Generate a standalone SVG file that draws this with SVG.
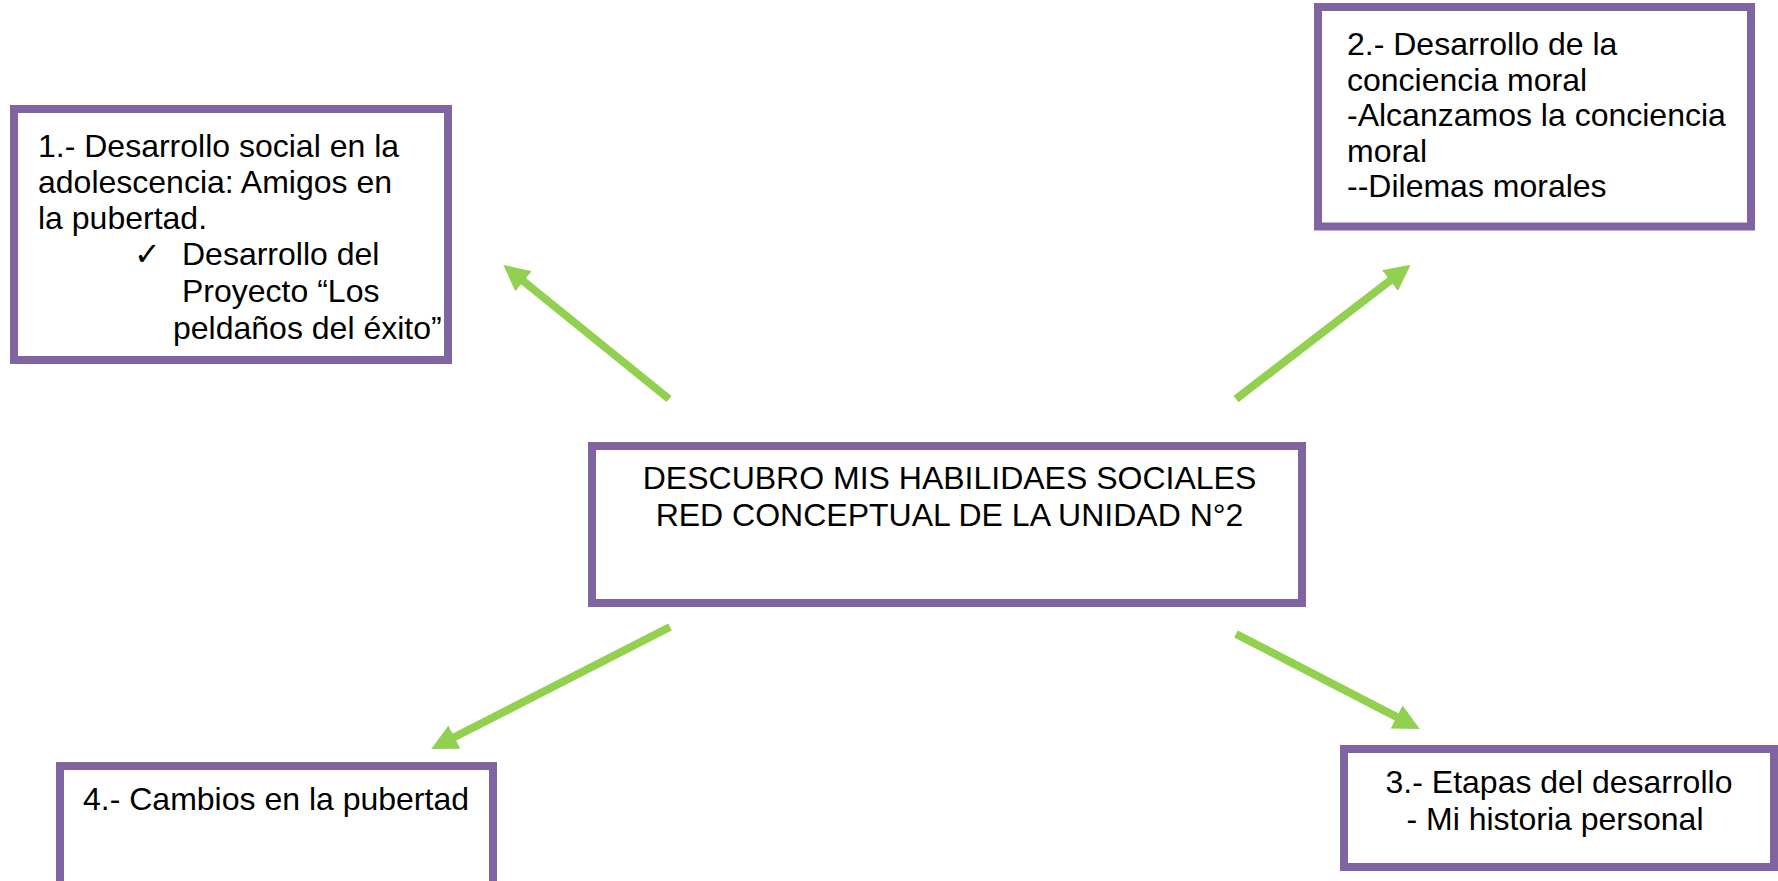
<svg xmlns="http://www.w3.org/2000/svg" width="1778" height="881" viewBox="0 0 1778 881">
<style>
.box{fill:#ffffff;stroke:#8064A2;stroke-width:8}
.t{font-family:"Liberation Sans",Arial,sans-serif;font-size:32px;fill:#000000}
.c{text-anchor:middle}
.arr{stroke:#92D050;stroke-width:8;fill:none;marker-end:url(#ah)}
</style>
<defs>
<marker id="ah" markerUnits="userSpaceOnUse" markerWidth="26" markerHeight="26" viewBox="0 0 26 26" refX="2" refY="13" orient="auto">
<path d="M0,0 L26,13 L0,26 z" fill="#92D050"/>
</marker>
</defs>
<rect width="1778" height="881" fill="#ffffff"/>
<g id="connectors">
<line class="arr" x1="669" y1="399" x2="522" y2="280"/>
<line class="arr" x1="1236" y1="399" x2="1391.6" y2="279.4"/>
<line class="arr" x1="670" y1="627" x2="452.6" y2="738"/>
<line class="arr" x1="1236" y1="634" x2="1398.4" y2="717.9"/>
</g>
<g id="node1">
<rect class="box" x="14" y="109" width="434" height="251"/>
<text class="t" x="38" y="157">1.- Desarrollo social en la</text>
<text class="t" x="38" y="193">adolescencia: Amigos en</text>
<text class="t" x="38" y="229">la pubertad.</text>
<text class="t" x="134" y="265">✓</text>
<text class="t" x="182" y="265">Desarrollo del</text>
<text class="t" x="182" y="302">Proyecto “Los</text>
<text class="t" x="173" y="339">peldaños del éxito”</text>
</g>
<g id="node2">
<rect class="box" x="1318" y="7" width="433" height="219.5"/>
<text class="t" x="1347" y="55">2.- Desarrollo de la</text>
<text class="t" x="1347" y="90.5">conciencia moral</text>
<text class="t" x="1347" y="126">-Alcanzamos la conciencia</text>
<text class="t" x="1347" y="161.5">moral</text>
<text class="t" x="1347" y="197">--Dilemas morales</text>
</g>
<g id="center">
<rect class="box" x="592" y="446" width="710" height="157"/>
<text class="t c" x="949.5" y="489">DESCUBRO MIS HABILIDAES SOCIALES</text>
<text class="t c" x="949.5" y="526">RED CONCEPTUAL DE LA UNIDAD N°2</text>
</g>
<g id="node3">
<rect class="box" x="1344" y="749" width="430" height="118"/>
<text class="t c" x="1559" y="793">3.- Etapas del desarrollo</text>
<text class="t c" x="1555" y="830">- Mi historia personal</text>
</g>
<g id="node4">
<rect class="box" x="60" y="766" width="433" height="130"/>
<text class="t c" x="276" y="810">4.- Cambios en la pubertad</text>
</g>
</svg>
